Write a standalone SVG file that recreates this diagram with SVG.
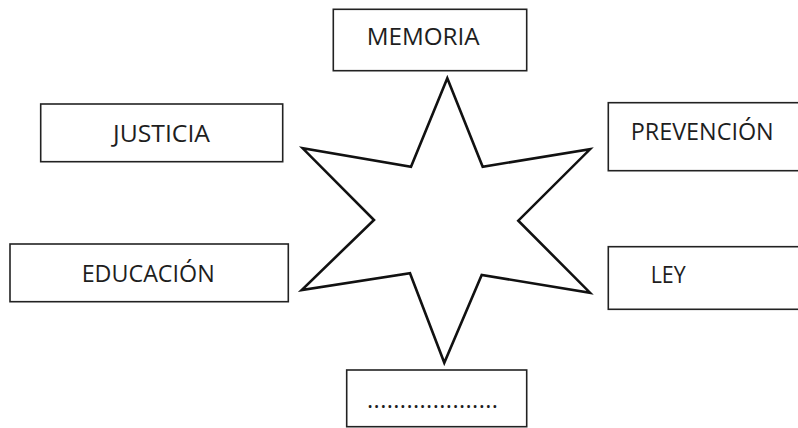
<svg xmlns="http://www.w3.org/2000/svg" width="798" height="428" viewBox="0 0 798 428">
<style>
.box{fill:#fff;stroke:#222;stroke-width:1.6}
.lbl{font-family:"Open Sans","Noto Sans",sans-serif;font-size:23.5px;fill:#1e1e1e}
.star{fill:#fff;stroke:#111;stroke-width:2.6;stroke-linejoin:miter}
</style>
<rect width="798" height="428" fill="#fff"/>
<g id="star">
<polygon class="star" points="447.3,78.3 482.7,166.7 590,149.3 518.3,220.7 590,292.7 481.7,275 444.3,362.7 410,273.3 301.7,290 374,220 302.7,148.3 411,166.7"/>
</g>
<g id="connectors"></g>
<g id="memoria">
<rect class="box" x="333.3" y="9.3" width="193.4" height="61.4"/>
<text class="lbl" x="366.7" y="45" textLength="113" lengthAdjust="spacingAndGlyphs">MEMORIA</text>
</g>
<g id="justicia">
<rect class="box" x="40.7" y="104" width="242" height="57.7"/>
<text class="lbl" x="113" y="141.7" textLength="97" lengthAdjust="spacingAndGlyphs">JUSTICIA</text>
</g>
<g id="prevencion">
<rect class="box" x="608.3" y="102.7" width="200" height="68"/>
<text class="lbl" x="630.7" y="140" textLength="143" lengthAdjust="spacingAndGlyphs">PREVENCIÓN</text>
</g>
<g id="educacion">
<rect class="box" x="10" y="244" width="278.3" height="57.7"/>
<text class="lbl" x="81.7" y="281.7" textLength="133" lengthAdjust="spacingAndGlyphs">EDUCACIÓN</text>
</g>
<g id="ley">
<rect class="box" x="608.3" y="246.7" width="200" height="62.6"/>
<text class="lbl" x="650.7" y="283.3" textLength="35" lengthAdjust="spacingAndGlyphs">LEY</text>
</g>
<g id="blank">
<rect class="box" x="346.7" y="370" width="180" height="56.7"/>
<text class="lbl" x="367" y="408" textLength="131">....................</text>
</g>
</svg>
